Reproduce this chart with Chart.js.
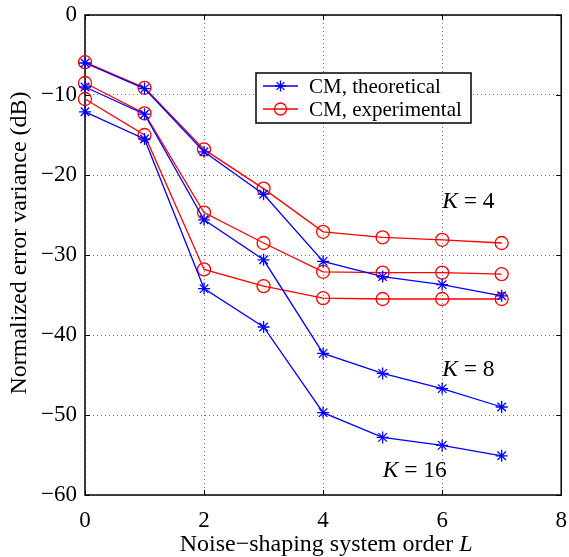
<!DOCTYPE html>
<html>
<head>
<meta charset="utf-8">
<script src="https://cdn.jsdelivr.net/npm/chart.js@4/dist/chart.umd.min.js"></script>
<style>
  html, body { margin: 0; padding: 0; background: #fff; }
  #wrap { width: 569px; height: 557px; }
</style>
</head>
<body>
<div id="wrap"><canvas id="c" width="569" height="557"></canvas></div>
<script>
// Noise-shaping system order L
const orders = [0, 1, 2, 3, 4, 5, 6, 7];

// Normalized error variance (dB), theoretical CM
const theoK4  = [-6.0, -9.2, -17.1, -22.4, -30.8, -32.7, -33.7, -35.1];
const theoK8  = [-9.0, -12.4, -25.6, -30.6, -42.3, -44.8, -46.7, -49.0];
const theoK16 = [-12.1, -15.5, -34.2, -39.0, -49.7, -52.8, -53.8, -55.1];

// Normalized error variance (dB), experimental CM
const expK4  = [-5.9, -9.1, -16.8, -21.7, -27.1, -27.8, -28.1, -28.5];
const expK8  = [-8.5, -12.3, -24.7, -28.5, -32.1, -32.2, -32.2, -32.4];
const expK16 = [-10.5, -15.0, -31.8, -33.9, -35.4, -35.5, -35.5, -35.5];

const xTicks = [0, 2, 4, 6, 8];
const yTicks = [0, -10, -20, -30, -40, -50, -60];

const seriesNames = ['CM, theoretical', 'CM, experimental'];
const curveLabels = [
  { k: '4',  x: 6.0, y: -23.3 },
  { k: '8',  x: 6.0, y: -44.3 },
  { k: '16', x: 5.0, y: -57.0 }
];

const BLUE = '#0000ff';
const RED = '#ff0000';
const FONT = '"Liberation Serif", "Times New Roman", serif';
const TICK_FS = 23;
const TITLE_FS = 24;
const LEGEND_FS = 21;
const NOTE_FS = 23.5;

function pts(ys) { return ys.map((y, i) => ({ x: orders[i], y })); }

function theo(ys, name) {
  return {
    label: name, data: pts(ys), borderColor: BLUE, backgroundColor: BLUE,
    borderWidth: 1.3, pointStyle: 'star', pointRadius: 6, pointBorderWidth: 1.3,
    pointBorderColor: BLUE, tension: 0, clip: false, fill: false
  };
}
function expe(ys, name) {
  return {
    label: name, data: pts(ys), borderColor: RED, backgroundColor: 'rgba(0,0,0,0)',
    borderWidth: 1.3, pointStyle: 'circle', pointRadius: 6.5, pointBorderWidth: 1.3,
    pointBorderColor: RED, pointBackgroundColor: 'rgba(0,0,0,0)', tension: 0, clip: false, fill: false
  };
}

function minus(v) { return String(v).replace('-', '\u2212'); }

// frame, inward tick marks, axis titles, in-plot labels and legend box
const decor = {
  id: 'decor',
  beforeDatasetsDraw(chart) {
    const { ctx, chartArea: a, scales: { x, y } } = chart;
    ctx.save();
    ctx.strokeStyle = '#000';
    ctx.lineWidth = 1.5;
    ctx.strokeRect(a.left, a.top, a.right - a.left, a.bottom - a.top);
    ctx.lineWidth = 1;
    const t = 5;
    ctx.beginPath();
    xTicks.forEach(v => {
      const px = Math.round(x.getPixelForValue(v)) + 0.5;
      ctx.moveTo(px, a.bottom); ctx.lineTo(px, a.bottom - t);
      ctx.moveTo(px, a.top); ctx.lineTo(px, a.top + t);
    });
    yTicks.forEach(v => {
      const py = Math.round(y.getPixelForValue(v)) + 0.5;
      ctx.moveTo(a.left, py); ctx.lineTo(a.left + t, py);
      ctx.moveTo(a.right, py); ctx.lineTo(a.right - t, py);
    });
    ctx.stroke();
    ctx.restore();
  },
  afterDraw(chart) {
    const { ctx, chartArea: a, scales: { x, y } } = chart;
    ctx.save();
    ctx.fillStyle = '#000';
    ctx.textBaseline = 'middle';

    // x-axis title with italic L
    const up = `${TITLE_FS}px ${FONT}`;
    const it = `italic ${TITLE_FS}px ${FONT}`;
    const t1 = 'Noise\u2212shaping system order ';
    ctx.font = up; const w1 = ctx.measureText(t1).width;
    ctx.font = it; const w2 = ctx.measureText('L').width;
    let sx = (a.left + a.right) / 2 - (w1 + w2) / 2 + 3;
    const ty = 545;
    ctx.textAlign = 'left';
    ctx.font = up; ctx.fillText(t1, sx, ty);
    ctx.font = it; ctx.fillText('L', sx + w1, ty);

    // y-axis title
    ctx.save();
    ctx.translate(20, 243);
    ctx.rotate(-Math.PI / 2);
    ctx.textAlign = 'center';
    ctx.font = up;
    ctx.fillText('Normalized error variance (dB)', 0, 0);
    ctx.restore();

    // curve family labels
    const nUp = `${NOTE_FS}px ${FONT}`;
    const nIt = `italic ${NOTE_FS}px ${FONT}`;
    curveLabels.forEach(c => {
      const px = x.getPixelForValue(c.x);
      const py = y.getPixelForValue(c.y);
      ctx.textAlign = 'left';
      ctx.font = nIt; ctx.fillText('K', px, py);
      const kw = ctx.measureText('K').width;
      ctx.font = nUp; ctx.fillText(' = ' + c.k, px + kw, py);
    });

    // legend
    const lx = 256, ly = 73, lw = 215, lh = 50;
    ctx.fillStyle = '#fff';
    ctx.fillRect(lx, ly, lw, lh);
    ctx.strokeStyle = '#000';
    ctx.lineWidth = 1.5;
    ctx.strokeRect(lx, ly, lw, lh);
    const rows = [
      { name: seriesNames[0], color: BLUE, star: true, cy: ly + 13 },
      { name: seriesNames[1], color: RED, star: false, cy: ly + 36 }
    ];
    rows.forEach(r => {
      ctx.strokeStyle = r.color;
      ctx.lineWidth = 1.3;
      ctx.beginPath();
      ctx.moveTo(lx + 7, r.cy); ctx.lineTo(lx + 42, r.cy);
      ctx.stroke();
      const mx = lx + 24.5;
      ctx.beginPath();
      if (r.star) {
        const s = 5.5;
        for (let k = 0; k < 4; k++) {
          const ang = k * Math.PI / 4;
          ctx.moveTo(mx - s * Math.cos(ang), r.cy - s * Math.sin(ang));
          ctx.lineTo(mx + s * Math.cos(ang), r.cy + s * Math.sin(ang));
        }
      } else {
        ctx.arc(mx, r.cy, 6, 0, Math.PI * 2);
      }
      ctx.stroke();
      ctx.fillStyle = '#000';
      ctx.font = `${LEGEND_FS}px ${FONT}`;
      ctx.textAlign = 'left';
      ctx.fillText(r.name, lx + 53, r.cy + 1);
    });
    ctx.restore();
  }
};

new Chart(document.getElementById('c'), {
  type: 'line',
  data: {
    datasets: [
      theo(theoK4, seriesNames[0]), theo(theoK8, seriesNames[0]), theo(theoK16, seriesNames[0]),
      expe(expK4, seriesNames[1]), expe(expK8, seriesNames[1]), expe(expK16, seriesNames[1])
    ]
  },
  options: {
    responsive: false,
    devicePixelRatio: 1,
    animation: false,
    layout: { padding: { top: 15, right: 4, left: 0, bottom: 0 } },
    plugins: { legend: { display: false }, tooltip: { enabled: false } },
    scales: {
      x: {
        type: 'linear', min: 0, max: 8,
        afterBuildTicks(s) { s.ticks = xTicks.map(v => ({ value: v })); },
        afterFit(s) { s.height = 62; s.paddingLeft = 0; s.paddingRight = 0; },
        border: { display: false, dash: [1, 3] },
        grid: { drawTicks: false, color: '#777', lineWidth: 1 },
        ticks: {
          padding: 12, color: '#000', maxRotation: 0,
          font: { family: FONT, size: TICK_FS },
          callback: v => minus(v)
        }
      },
      y: {
        type: 'linear', min: -60, max: 0,
        afterBuildTicks(s) { s.ticks = yTicks.map(v => ({ value: v })); },
        afterFit(s) { s.width = 85; s.paddingTop = 0; s.paddingBottom = 0; },
        border: { display: false, dash: [1, 3] },
        grid: { drawTicks: false, color: '#777', lineWidth: 1 },
        ticks: {
          padding: 8, color: '#000',
          font: { family: FONT, size: TICK_FS },
          callback: v => minus(v)
        }
      }
    }
  },
  plugins: [decor]
});
</script>
</body>
</html>
